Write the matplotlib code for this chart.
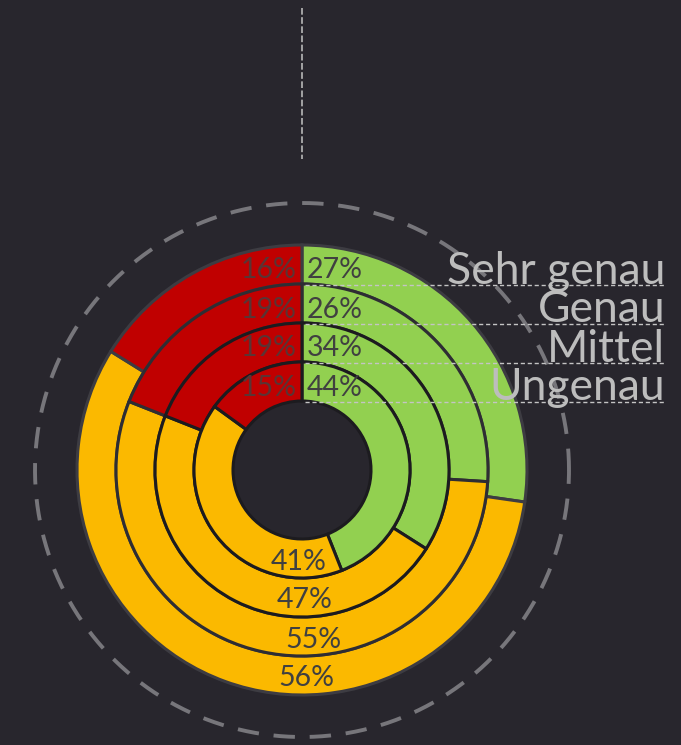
import numpy as np
from matplotlib import pyplot as plt

# data
rows = ['Sehr genau', 'Genau', 'Mittel', 'Ungenau']
green = [27, 26, 34, 44]
yellow = [56, 55, 47, 41]
red = [16, 19, 19, 15]

BG = '#28262d'
COLS = ['#92d050', '#fbb900', '#c00000']
W, H = 681, 745


def Y(py):
    # pixel row -> data y
    return H - py


fig = plt.figure(figsize=(W / 100, H / 100), dpi=100, facecolor=BG)
ax = fig.add_axes([0, 0, 1, 1])
ax.set_facecolor(BG)

cx, cy = 302, Y(470)
r_out = 225
ring_w = 39
edge_cols = ['#3d3c42', '#2e2d33', '#1c1b1f', '#1c1b1f']

for i in range(len(rows)):
    r = r_out - i * ring_w
    ax.pie([green[i], yellow[i], red[i]], colors=COLS, radius=r, center=(cx, cy),
           startangle=90, counterclock=False, frame=True,
           wedgeprops=dict(width=ring_w, edgecolor=edge_cols[i], linewidth=2.2))

# dashed circle around
t = np.linspace(0, 2 * np.pi, 400)
ax.plot(cx + 267 * np.cos(t), cy + 267 * np.sin(t), color='#77767b', lw=2.8,
        linestyle=(0, (5.5, 3.8)))

# dotted vertical line on top
ax.plot([302, 302], [Y(8), Y(159)], color='#b8b8b8', lw=1.2, linestyle=(0, (4, 1.5)))

txt_col = '#404040'
fnt = 'Lato'
fs = 20.5
yel_dx = [4, 11, 3, -3]
for i, name in enumerate(rows):
    r = r_out - i * ring_w
    mid = r - ring_w / 2
    ty = cy + mid - 6
    ax.text(307, ty, f'{green[i]}%', ha='left', va='center', color=txt_col,
            fontsize=fs, family=fnt)
    ax.text(297, ty, f'{red[i]}%', ha='right', va='center', color='#5a3434',
            fontsize=fs, family=fnt)
    ax.text(cx + yel_dx[i], cy - mid - 3, f'{yellow[i]}%', ha='center', va='center',
            color=txt_col, fontsize=fs, family=fnt)
    # row label with dashed underline
    base = cy + r - ring_w - 0.5
    ax.plot([305, 665], [base, base], color='#c4c4c4', lw=1.0, linestyle=(0, (3, 2)))
    ax.text(665, base + 1, name, ha='right', va='baseline', color='#bdbdbd',
            fontsize=32, family=fnt)

ax.set_xlim(0, W)
ax.set_ylim(0, H)
ax.set_aspect('auto')
ax.axis('off')
fig.savefig('out.png', dpi=100, facecolor=BG)
